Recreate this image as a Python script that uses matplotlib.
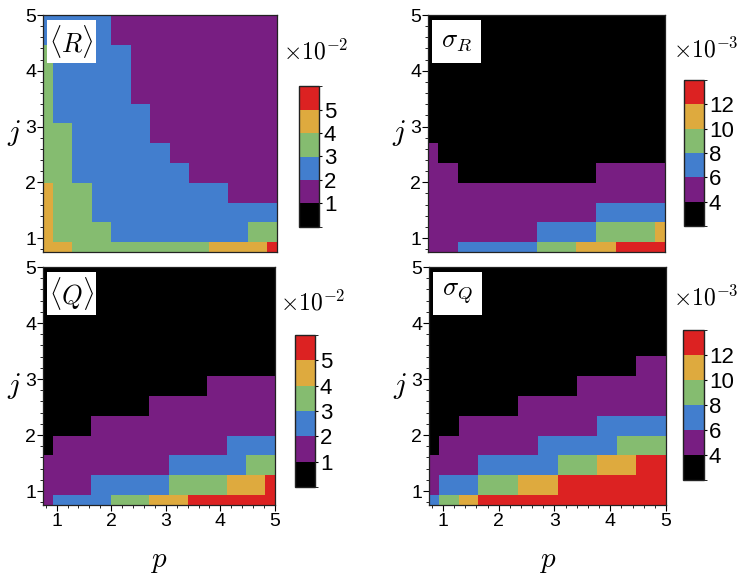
import matplotlib
matplotlib.use("Agg")
import matplotlib.pyplot as plt
from matplotlib.colors import ListedColormap, BoundaryNorm
import numpy as np

plt.rcParams["font.family"] = ["Liberation Sans", "DejaVu Sans"]
plt.rcParams["mathtext.fontset"] = "cm"

# grid nodes (p along x, j along y)
p_vals = [0.75, 1.10, 1.46, 1.81, 2.17, 2.52, 2.88, 3.23, 3.58, 3.94, 4.29, 4.65, 5.00]
j_vals = [0.75, 1.10, 1.46, 1.81, 2.17, 2.52, 2.88, 3.23, 3.58, 3.94, 4.29, 4.65, 5.00]

# <R> in units of 1e-2, rows from j=0.75 (bottom) to j=5 (top)
R_mean = [
    [4.5, 4.5, 3.5, 3.5, 3.5, 3.5, 3.5, 3.5, 3.5, 4.5, 4.5, 4.5, 5.5],
    [4.5, 3.5, 3.5, 3.5, 2.5, 2.5, 2.5, 2.5, 2.5, 2.5, 2.5, 3.5, 3.5],
    [4.5, 3.5, 3.5, 2.5, 2.5, 2.5, 2.5, 2.5, 2.5, 2.5, 2.5, 2.5, 2.5],
    [4.5, 3.5, 3.5, 2.5, 2.5, 2.5, 2.5, 2.5, 2.5, 2.5, 1.5, 1.5, 1.5],
    [3.5, 3.5, 2.5, 2.5, 2.5, 2.5, 2.5, 2.5, 1.5, 1.5, 1.5, 1.5, 1.5],
    [3.5, 3.5, 2.5, 2.5, 2.5, 2.5, 2.5, 1.5, 1.5, 1.5, 1.5, 1.5, 1.5],
    [3.5, 3.5, 2.5, 2.5, 2.5, 2.5, 1.5, 1.5, 1.5, 1.5, 1.5, 1.5, 1.5],
    [3.5, 2.5, 2.5, 2.5, 2.5, 2.5, 1.5, 1.5, 1.5, 1.5, 1.5, 1.5, 1.5],
    [3.5, 2.5, 2.5, 2.5, 2.5, 1.5, 1.5, 1.5, 1.5, 1.5, 1.5, 1.5, 1.5],
    [3.5, 2.5, 2.5, 2.5, 2.5, 1.5, 1.5, 1.5, 1.5, 1.5, 1.5, 1.5, 1.5],
    [3.5, 2.5, 2.5, 2.5, 2.5, 1.5, 1.5, 1.5, 1.5, 1.5, 1.5, 1.5, 1.5],
    [2.5, 2.5, 2.5, 2.5, 1.5, 1.5, 1.5, 1.5, 1.5, 1.5, 1.5, 1.5, 1.5],
    [2.5, 2.5, 2.5, 2.5, 1.5, 1.5, 1.5, 1.5, 1.5, 1.5, 1.5, 1.5, 1.5],
]

# sigma_R in units of 1e-3
R_std = [
    [5, 5, 7, 7, 7, 7, 9, 9, 11, 11, 13, 13, 13],
    [5, 5, 5, 5, 5, 5, 7, 7, 7, 9, 9, 9, 11],
    [5, 5, 5, 5, 5, 5, 5, 5, 5, 7, 7, 7, 7],
    [5, 5, 5, 5, 5, 5, 5, 5, 5, 5, 5, 5, 5],
    [5, 5, 3, 3, 3, 3, 3, 3, 3, 5, 5, 5, 5],
    [5, 3, 3, 3, 3, 3, 3, 3, 3, 3, 3, 3, 3],
    [3, 3, 3, 3, 3, 3, 3, 3, 3, 3, 3, 3, 3],
    [3, 3, 3, 3, 3, 3, 3, 3, 3, 3, 3, 3, 3],
    [3, 3, 3, 3, 3, 3, 3, 3, 3, 3, 3, 3, 3],
    [3, 3, 3, 3, 3, 3, 3, 3, 3, 3, 3, 3, 3],
    [3, 3, 3, 3, 3, 3, 3, 3, 3, 3, 3, 3, 3],
    [3, 3, 3, 3, 3, 3, 3, 3, 3, 3, 3, 3, 3],
    [3, 3, 3, 3, 3, 3, 3, 3, 3, 3, 3, 3, 3],
]

# <Q> in units of 1e-2
Q_mean = [
    [1.5, 2.5, 2.5, 2.5, 3.5, 3.5, 4.5, 4.5, 5.5, 5.5, 5.5, 5.5, 5.5],
    [1.5, 1.5, 1.5, 2.5, 2.5, 2.5, 2.5, 3.5, 3.5, 3.5, 4.5, 4.5, 5.5],
    [1.5, 1.5, 1.5, 1.5, 1.5, 1.5, 1.5, 2.5, 2.5, 2.5, 2.5, 3.5, 3.5],
    [0.5, 1.5, 1.5, 1.5, 1.5, 1.5, 1.5, 1.5, 1.5, 1.5, 2.5, 2.5, 2.5],
    [0.5, 0.5, 0.5, 1.5, 1.5, 1.5, 1.5, 1.5, 1.5, 1.5, 1.5, 1.5, 1.5],
    [0.5, 0.5, 0.5, 0.5, 0.5, 0.5, 1.5, 1.5, 1.5, 1.5, 1.5, 1.5, 1.5],
    [0.5, 0.5, 0.5, 0.5, 0.5, 0.5, 0.5, 0.5, 0.5, 1.5, 1.5, 1.5, 1.5],
    [0.5, 0.5, 0.5, 0.5, 0.5, 0.5, 0.5, 0.5, 0.5, 0.5, 0.5, 0.5, 0.5],
    [0.5, 0.5, 0.5, 0.5, 0.5, 0.5, 0.5, 0.5, 0.5, 0.5, 0.5, 0.5, 0.5],
    [0.5, 0.5, 0.5, 0.5, 0.5, 0.5, 0.5, 0.5, 0.5, 0.5, 0.5, 0.5, 0.5],
    [0.5, 0.5, 0.5, 0.5, 0.5, 0.5, 0.5, 0.5, 0.5, 0.5, 0.5, 0.5, 0.5],
    [0.5, 0.5, 0.5, 0.5, 0.5, 0.5, 0.5, 0.5, 0.5, 0.5, 0.5, 0.5, 0.5],
    [0.5, 0.5, 0.5, 0.5, 0.5, 0.5, 0.5, 0.5, 0.5, 0.5, 0.5, 0.5, 0.5],
]

# sigma_Q in units of 1e-3
Q_std = [
    [7, 9, 11, 13, 13, 13, 13, 13, 13, 13, 13, 13, 13],
    [5, 7, 7, 9, 9, 11, 11, 13, 13, 13, 13, 13, 13],
    [5, 5, 5, 7, 7, 7, 7, 9, 9, 11, 11, 13, 13],
    [3, 5, 5, 5, 5, 5, 7, 7, 7, 7, 9, 9, 9],
    [3, 3, 5, 5, 5, 5, 5, 5, 5, 7, 7, 7, 7],
    [3, 3, 3, 3, 3, 5, 5, 5, 5, 5, 5, 5, 5],
    [3, 3, 3, 3, 3, 3, 3, 3, 5, 5, 5, 5, 5],
    [3, 3, 3, 3, 3, 3, 3, 3, 3, 3, 3, 5, 5],
    [3, 3, 3, 3, 3, 3, 3, 3, 3, 3, 3, 3, 3],
    [3, 3, 3, 3, 3, 3, 3, 3, 3, 3, 3, 3, 3],
    [3, 3, 3, 3, 3, 3, 3, 3, 3, 3, 3, 3, 3],
    [3, 3, 3, 3, 3, 3, 3, 3, 3, 3, 3, 3, 3],
    [3, 3, 3, 3, 3, 3, 3, 3, 3, 3, 3, 3, 3],
]

mean_bounds = [0, 1, 2, 3, 4, 5, 6]
mean_ticks = [1, 2, 3, 4, 5]
std_bounds = [2, 4, 6, 8, 10, 12, 14]
std_ticks = [4, 6, 8, 10, 12]

colors = ["#000000", "#781E82", "#427ECE", "#85BC70", "#DEAA3E", "#DC2222"]
cmap = ListedColormap(colors)

panels = [
    # data, label, bounds, ticks, exponent, axes rect, colorbar rect, exponent pos
    (R_mean, r"$\langle R\rangle$", mean_bounds, mean_ticks, r"$\times10^{-2}$",
     [43, 15, 234, 237], [299, 86, 20, 141], (283, 52)),
    (R_std, r"$\sigma_R$", std_bounds, std_ticks, r"$\times10^{-3}$",
     [428, 15, 237, 237], [684, 80, 20, 146], (673, 50)),
    (Q_mean, r"$\langle Q\rangle$", mean_bounds, mean_ticks, r"$\times10^{-2}$",
     [43, 267, 232, 238], [295, 335, 20, 152], (280, 303)),
    (Q_std, r"$\sigma_Q$", std_bounds, std_ticks, r"$\times10^{-3}$",
     [429, 267, 237, 238], [683, 330, 21, 150], (673, 298)),
]

W, H = 747, 581
fig = plt.figure(figsize=(W / 100, H / 100), dpi=100)


def rect(r):
    x, y, w, h = r
    return [x / W, 1 - (y + h) / H, w / W, h / H]


for k, (data, label, bounds, ticks, expo, arect, crect, epos) in enumerate(panels):
    ax = fig.add_axes(rect(arect))
    norm = BoundaryNorm(bounds, cmap.N)
    mesh = ax.pcolormesh(p_vals, j_vals, np.array(data), cmap=cmap, norm=norm,
                         shading="nearest")
    ax.set_xlim(0.75, 5)
    ax.set_ylim(0.75, 5)
    ax.set_yticks([1, 2, 3, 4, 5])
    ax.set_yticks(np.arange(0.8, 5.0, 0.2), minor=True)
    ax.tick_params(axis="y", which="major", direction="out", length=4, width=0.8,
                   labelsize=14, pad=1)
    ax.tick_params(axis="y", which="minor", direction="out", length=2, width=0.6)
    ax.set_ylabel(r"$j$", fontsize=21, rotation=0, labelpad=8, va="center")
    if k >= 2:
        ax.set_xticks([1, 2, 3, 4, 5])
        ax.set_xticks(np.arange(0.8, 5.0, 0.2), minor=True)
        ax.tick_params(axis="x", which="major", direction="out", length=4, width=0.8,
                       labelsize=14, pad=2)
        ax.tick_params(axis="x", which="minor", direction="out", length=2, width=0.6)
        ax.set_xlabel(r"$p$", fontsize=21, labelpad=12)
    else:
        ax.set_xticks([])
    for s in ax.spines.values():
        s.set_linewidth(0.9)
        s.set_color("#222222")
    # white label box, about 49 x 43 px at the upper left
    bx0, by0 = 4 / arect[2], 1 - 5 / arect[3]
    ax.add_patch(plt.Rectangle((bx0, by0 - 43 / arect[3]), 49 / arect[2], 43 / arect[3],
                               transform=ax.transAxes, fc="white", ec="none", zorder=3))
    ax.text(bx0 + 24.5 / arect[2], by0 - 21.5 / arect[3], label, transform=ax.transAxes,
            ha="center", va="center", fontsize=19, zorder=4)

    cax = fig.add_axes(rect(crect))
    cb = fig.colorbar(mesh, cax=cax, ticks=ticks)
    cb.outline.set_linewidth(1.0)
    cb.outline.set_edgecolor("#222222")
    cax.tick_params(direction="out", length=2.5, width=0.8, labelsize=16, pad=1)
    fig.text(epos[0] / W, 1 - epos[1] / H, expo, fontsize=17, ha="left", va="center")

fig.savefig("out.png", dpi=100)
